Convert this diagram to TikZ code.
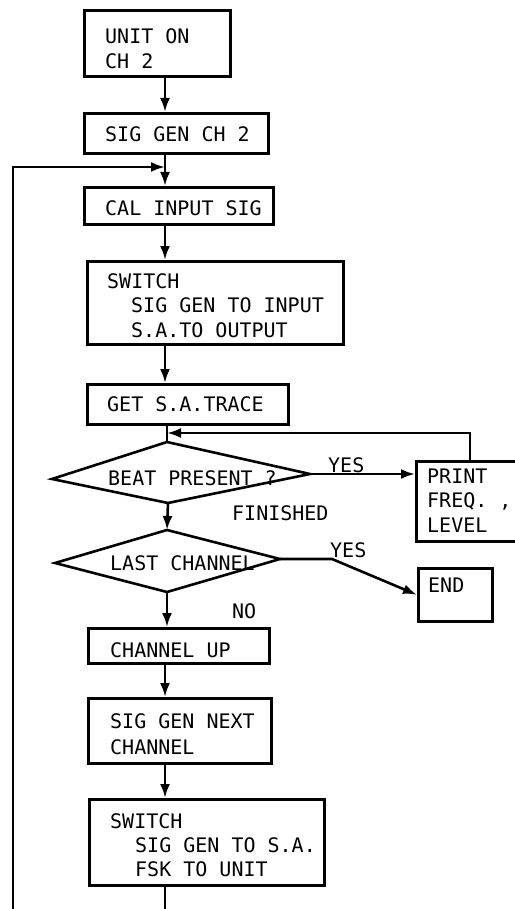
\documentclass[tikz,border=0pt]{standalone}
\usepackage{fontspec}
\setmonofont{DejaVu Sans Mono}
\usetikzlibrary{arrows.meta}
\begin{document}
\begin{tikzpicture}[x=1pt,y=-1pt,
  box/.style={draw,line width=2.6pt,rectangle,inner sep=0pt,anchor=north west},
  txt/.style={inner sep=0pt,align=left,font=\ttfamily\fontsize{20}{25}\selectfont},
  flow/.style={line width=2.6pt,-{Latex[length=14pt,width=10pt]}},
  wire/.style={line width=2.6pt}]
\useasboundingbox (0,0) rectangle (514,909);
% boxes
\node[box,minimum width=146pt,minimum height=66pt] (unit) at (83,9) {};
\node[box,minimum width=184pt,minimum height=40pt] (siggen) at (83,112) {};
\node[box,minimum width=189pt,minimum height=37pt] (cal) at (83,186) {};
\node[box,minimum width=256pt,minimum height=83pt] (swa) at (86,260) {};
\node[box,minimum width=201pt,minimum height=40pt] (get) at (86,383) {};
\node[box,minimum width=110pt,minimum height=80pt] (print) at (415,460) {};
\node[box,minimum width=74pt,minimum height=53pt] (end) at (417,567) {};
\node[box,minimum width=181pt,minimum height=35pt] (chup) at (87,627) {};
\node[box,minimum width=183pt,minimum height=65pt] (next) at (87,697) {};
\node[box,minimum width=235pt,minimum height=86pt] (swb) at (88,798) {};
% diamonds
\coordinate (bT) at (167,442);
\coordinate (bR) at (310,474);
\coordinate (bB) at (168,503);
\coordinate (bL) at (52,479);
\coordinate (lT) at (167,530);
\coordinate (lR) at (280,559);
\coordinate (lB) at (167,592);
\coordinate (lL) at (55,563);
\draw[wire,line join=miter] (bT)--(bR)--(bB)--(bL)--cycle;
\draw[wire,line join=miter] (lT)--(lR)--(lB)--(lL)--cycle;
% texts
\node[txt,anchor=north west] (tunit) at (105,28.4) {UNIT ON\\CH 2};
\node[txt,anchor=base west] (tsiggen) at (105,142) {SIG GEN CH 2};
\node[txt,anchor=base west] (tcal) at (105,216) {CAL INPUT SIG};
\node[txt,anchor=north west,font=\ttfamily\fontsize{20}{24.5}\selectfont] (tswa) at (107,273.4) {SWITCH\\\hspace*{24pt}SIG GEN TO INPUT\\\hspace*{24pt}S.A.TO OUTPUT};
\node[txt,anchor=base west] (tget) at (107,411) {GET S.A.TRACE};
\node[txt,anchor=base west] (tbeat) at (108,485) {BEAT PRESENT ?};
\node[txt,anchor=north west,font=\ttfamily\fontsize{20}{24.5}\selectfont] (tprint) at (427,468.4) {PRINT\\FREQ. ,\\LEVEL};
\node[txt,anchor=base west] (tlast) at (110,570) {LAST CHANNEL};
\node[txt,anchor=base west] (tend) at (428,592) {END};
\node[txt,anchor=base west] (tchup) at (110,657) {CHANNEL UP};
\node[txt,anchor=north west,font=\ttfamily\fontsize{20}{26}\selectfont] (tnext) at (110,713.4) {SIG GEN NEXT\\CHANNEL};
\node[txt,anchor=north west,font=\ttfamily\fontsize{20}{24}\selectfont] (tswb) at (110,813.4) {SWITCH\\\hspace*{25pt}SIG GEN TO S.A.\\\hspace*{25pt}FSK TO UNIT};
\node[txt,anchor=base west] (yes1) at (328,472) {YES};
\node[txt,anchor=base west] (fin) at (232,520) {FINISHED};
\node[txt,anchor=base west] (yes2) at (330,557) {YES};
\node[txt,anchor=base west] (no) at (232,618) {NO};
% helper coordinates
\coordinate (spine) at (165,0);
\coordinate (bottom) at (0,912);
\coordinate (loopx) at (13,0);
\coordinate (loopin) at (165,167);
\coordinate (retx) at (470,0);
\coordinate (retin) at (167,433);
\coordinate (ybend) at (332,559);
% connectors
\draw[flow] (unit.south -| spine) -- (siggen.north -| spine);
\draw[flow] (siggen.south -| spine) -- (cal.north -| spine);
\draw[flow] (cal.south -| spine) -- (swa.north -| spine);
\draw[flow] (swa.south -| spine) -- (get.north -| spine);
\draw[wire] (get.south -| bT) -- (bT);
\draw[flow] (print.north -| retx) -- (retx |- retin) -- (retin);
\draw[flow] (bR) -- (bR -| print.west);
\draw[flow] (bB) -- (lT);
\draw[flow] (lR) -- (ybend) -- (end.west);
\draw[flow] (lB) -- (chup.north -| lB);
\draw[flow] (chup.south -| spine) -- (next.north -| spine);
\draw[flow] (next.south -| spine) -- (swb.north -| spine);
\draw[wire] (swb.south -| spine) -- (spine |- bottom);
\draw[flow] (loopx |- bottom) -- (loopx |- loopin) -- (loopin);
\end{tikzpicture}
\end{document}
